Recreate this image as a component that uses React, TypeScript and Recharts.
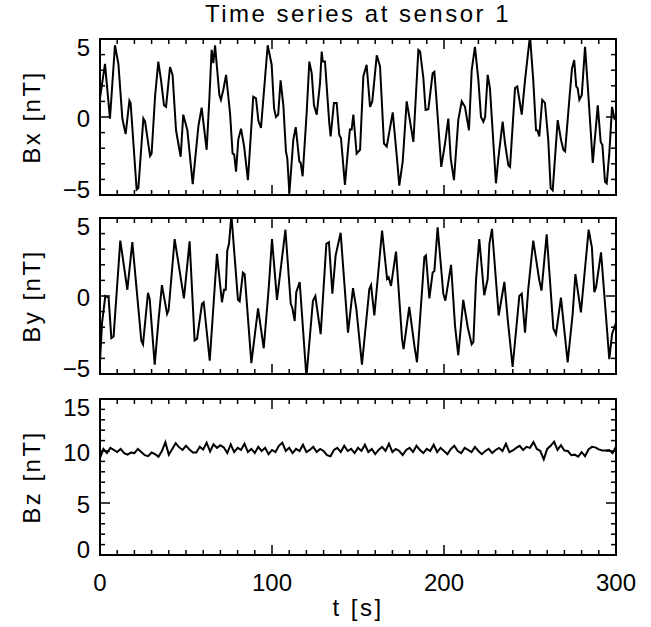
import { LineChart, Line, XAxis, YAxis, ReferenceArea } from 'recharts';

// Bx (time in s, field in nT)
const bxTime = [
  0, 2.9, 5.8, 8.7, 10.7, 13.0, 14.9, 17.1, 17.8, 21.3, 22.3, 25.2, 26.2, 29.1, 30.0, 32.0, 33.9, 35.5, 37.2, 38.4,
  40.7, 42.2, 44.2, 46.9, 48.4, 50.8, 53.9, 57.2, 59.1, 62.0, 63.6, 64.9, 65.9, 66.9, 69.4, 70.3, 71.7, 73.3, 75.6, 77.1,
  78.0, 79.1, 80.4, 82.0, 83.8, 86.0, 89.1, 90.7, 92.1, 93.6, 97.5, 99.8, 101.2, 102.3, 103.6, 105.0, 106.6, 108.1, 108.9, 110.1,
  112.4, 113.8, 115.9, 116.7, 117.8, 120.2, 121.7, 123.1, 124.4, 126.0, 127.9, 128.9, 129.5, 130.8, 133.3, 134.1, 136.0, 137.6, 139.1, 140.1,
  142.4, 144.4, 145.3, 146.3, 147.3, 149.2, 151.2, 153.1, 155.0, 157.0, 158.3, 160.9, 162.8, 165.1, 166.7, 170.2, 172.9, 174.0, 176.0, 178.3,
  180.0, 182.2, 185.1, 186.1, 188.0, 189.3, 190.9, 193.4, 194.4, 195.5, 198.4, 200.6, 202.5, 203.9, 205.8, 208.3, 210.3, 212.2, 214.5, 216.1,
  218.0, 220.0, 221.5, 222.9, 223.9, 225.4, 226.7, 230.2, 231.6, 234.1, 235.5, 237.4, 238.4, 241.3, 242.6, 245.2, 247.1, 248.4, 250.0, 251.9,
  253.5, 254.3, 255.4, 257.1, 258.7, 260.6, 262.0, 263.2, 266.1, 268.0, 269.4, 270.4, 273.0, 274.4, 275.7, 276.9, 277.7, 278.7, 280.1, 282.0,
  284.0, 286.5, 289.4, 291.1, 292.1, 293.6, 294.6, 296.1, 297.7, 299.1, 300,
];
const bxValue = [
  1.2, 3.4, -0.1, 4.6, 3.4, -0.1, -1.1, 1.05, 0.9, -4.65, -4.55, -0.1, -0.3, -2.5, -2.35, 1.3, 3.55, 2.35, 0.75, 0.65,
  3.2, 2.7, -0.85, -2.55, 0.15, -0.85, -4.3, -0.6, 0.6, -2.1, 1.2, 4.3, 3.45, 4.6, 1.4, 1.1, 1.75, 2.7, 0.25, -2.35,
  -2.4, -3.5, -1.45, -0.75, -1.9, -4.05, 1.3, 1.2, -0.25, -0.7, 4.6, 3.35, 0.55, 0.0, 0.15, 2.35, 0.75, -2.2, -2.65, -4.9,
  -1.45, -0.65, -2.85, -2.95, -3.8, 0.35, 3.55, 2.8, 0.75, 0.15, 2.15, 4.2, 3.55, 3.55, -0.4, -1.25, 0.9, 0.9, -1.15, -1.35,
  -4.35, -1.8, -0.8, -0.8, 0.15, -2.35, -2.1, 2.6, 3.35, 0.65, 1.0, 3.95, 3.25, -1.7, -1.9, 0.3, -2.95, -4.4, -2.85, 1.0,
  -0.1, -1.6, 4.3, 4.2, 2.5, 0.45, 0.5, 2.8, 2.9, 1.3, -3.2, -1.7, -0.1, -2.65, -4.05, -0.2, 1.0, 0.65, -0.85, 3.0,
  4.5, 2.35, 0.0, -0.3, 0.0, 2.7, 1.85, -4.25, -2.65, -0.3, -1.7, -3.1, -3.2, 1.85, 1.95, 0.15, 2.35, 3.65, 5.2, 2.35,
  -0.85, -0.85, -1.25, 1.1, 0.9, -1.45, -4.55, -4.7, -0.2, -1.45, -2.1, -2.2, 1.3, 3.1, 3.65, 1.95, 1.85, 1.1, 1.4, 4.5,
  1.3, -2.95, 0.75, -1.6, -1.8, -4.15, -4.25, -2.35, 0.65, -0.1, 0.0,
];

// By
const byTime = [
  0, 1.2, 3.1, 5.0, 6.6, 7.9, 11.8, 15.9, 18.8, 24.0, 25.0, 27.9, 28.9, 31.8, 34.1, 36.0, 39.0, 39.9, 43.4, 48.8,
  52.1, 55.0, 56.4, 59.3, 60.3, 63.8, 68.0, 70.9, 72.1, 73.1, 74.0, 75.0, 76.4, 80.2, 81.2, 83.1, 84.1, 88.0, 91.9, 95.2,
  98.1, 100.0, 102.9, 107.8, 110.9, 111.8, 113.2, 114.1, 116.1, 120.0, 123.8, 125.2, 128.3, 131.6, 133.1, 135.1, 137.0, 138.0, 139.9, 144.2,
  147.1, 149.0, 152.3, 156.6, 157.6, 159.5, 164.0, 166.9, 167.8, 169.2, 172.1, 175.6, 176.5, 179.8, 182.8, 184.3, 188.6, 189.5, 191.5, 193.4,
  194.4, 196.3, 199.6, 200.8, 204.1, 206.4, 208.3, 211.2, 213.8, 216.1, 217.1, 218.6, 220.5, 223.4, 225.4, 226.4, 227.9, 231.8, 235.1, 237.0,
  239.9, 243.8, 245.2, 247.1, 249.0, 251.9, 255.4, 256.7, 259.7, 263.6, 265.1, 268.0, 271.9, 274.8, 276.4, 279.6, 284.1, 286.0, 287.4, 288.4,
  291.3, 296.1, 297.7, 300,
];
const byValue = [
  -4.2, -1.7, 0.0, -0.1, -2.7, -2.6, 3.55, 0.4, 3.45, -2.85, -3.1, 0.2, -0.2, -4.4, -1.45, 0.7, -1.15, -0.9, 3.65, -0.15,
  3.5, -2.85, -2.75, -0.5, -0.4, -4.15, 2.7, -0.4, 0.4, 0.4, 2.9, 3.35, 5.2, -0.25, -0.35, 1.5, 1.4, -4.3, -0.8, -3.35,
  0.5, 3.65, -0.25, 4.25, -0.5, -0.75, -1.6, 0.25, 0.9, -5.2, -0.3, 0.0, -2.45, 3.35, 3.45, 0.15, 2.6, 3.1, 4.05, -2.35,
  0.5, -0.8, -4.4, 0.45, 0.7, -1.25, 4.2, 1.1, 1.2, 0.65, 2.85, -2.75, -3.4, -0.7, -3.2, -4.25, 2.5, 2.6, -0.15, 1.5,
  1.6, 4.4, 0.15, -0.3, 2.0, -1.9, -3.8, -0.25, -2.0, -3.1, -2.95, 1.0, 3.65, 0.05, 1.1, 3.35, 4.3, -1.25, 0.9, -1.45,
  -4.55, 0.0, 0.15, -2.35, 0.45, 3.55, 1.0, 0.35, 3.95, -2.1, -2.45, -0.1, -4.25, -1.15, 1.4, -1.05, 4.25, 3.1, 0.25, 0.55,
  2.8, -4.05, -2.45, -1.7,
];

// Bz, one sample every 2 s from t = 0
const BZ_STEP = 2;
const bzValue = [
  9.3, 10.2, 9.8, 10.3, 10.1, 9.9, 10.2, 9.8, 9.65, 9.85, 9.8, 10.2, 9.9, 9.6, 9.5, 9.85, 9.7, 9.45, 10.0, 10.85,
  9.65, 10.2, 10.75, 10.35, 10.1, 10.5, 10.15, 9.85, 9.85, 10.4, 10.15, 10.8, 9.95, 10.65, 10.3, 10.55, 10.35, 9.8, 10.65, 9.9,
  10.3, 10.1, 10.7, 9.9, 10.2, 9.8, 10.4, 10.0, 10.3, 9.7, 10.1, 9.9, 10.5, 10.8, 10.0, 10.3, 9.8, 10.2, 10.0, 10.6,
  9.9, 10.1, 10.4, 9.9, 10.2, 10.0, 9.6, 9.5, 10.1, 10.3, 9.9, 10.5, 10.0, 10.2, 9.8, 10.3, 10.0, 10.6, 9.9, 10.2,
  9.7, 10.1, 10.4, 10.0, 10.7, 9.9, 10.2, 10.0, 9.6, 10.1, 10.3, 9.9, 10.5, 10.1, 9.8, 10.2, 10.0, 10.6, 9.9, 10.3,
  10.0, 9.7, 10.2, 10.5, 10.0, 9.8, 10.3, 10.1, 9.9, 10.4, 10.0, 9.7, 10.0, 10.2, 9.8, 10.1, 10.3, 10.0, 10.7, 9.9,
  10.05, 10.3, 10.5, 10.1, 10.4, 10.3, 10.85, 10.2, 10.0, 9.2, 10.2, 10.5, 10.9, 10.1, 10.55, 10.05, 10.0, 9.6, 9.65, 9.45,
  9.9, 9.5, 10.15, 10.4, 10.35, 10.15, 10.05, 10.05, 10.1, 9.8, 10.4,
];

const xTicks = [
  0, 10, 20, 30, 40, 50, 60, 70, 80, 90, 100, 110, 120, 130, 140, 150, 160, 170, 180, 190,
  200, 210, 220, 230, 240, 250, 260, 270, 280, 290, 300,
];
const xMajor = [0, 100, 200, 300];
const bTicks = [-5, -4, -3, -2, -1, 0, 1, 2, 3, 4, 5];
const bMajor = [-5, 0, 5];
const bzTicks = [0, 1, 2, 3, 4, 5, 6, 7, 8, 9, 10, 11, 12, 13, 14, 15];
const bzMajor = [0, 5, 10, 15];

const FONT = '"Liberation Sans", Arial, sans-serif';
const WIDTH = 651;
const HEIGHT = 627;
const PLOT_LEFT = 100;
const PLOT_RIGHT = 616;
const PLOT_H = 156;
const MARGIN_TOP = 10;

const fmt = (v: number) => (v < 0 ? `\u2212${-v}` : `${v}`);

type PanelProps = {
  top: number;
  data: { t: number; v: number }[];
  domain: [number, number];
  ticks: number[];
  major: number[];
  showX: boolean;
};

function Panel({ top, data, domain, ticks, major, showX }: PanelProps) {
  const xAxisH = showX ? 72 : 10;
  const height = MARGIN_TOP + PLOT_H + xAxisH;
  const plotBottom = MARGIN_TOP + PLOT_H;
  const [lo, hi] = domain;

  const yTick = (props: any) => {
    const { y, payload } = props;
    const v = payload.value;
    const isMajor = major.includes(v);
    const len = isMajor ? 10 : 5;
    // IDL pulls the end labels inside the frame a little
    const shift = v === hi ? 8 : v === lo ? -6 : 1;
    return (
      <g>
        <line x1={PLOT_LEFT} x2={PLOT_LEFT + len} y1={y} y2={y} stroke="#000" strokeWidth={1.5} />
        <line x1={PLOT_RIGHT - len} x2={PLOT_RIGHT} y1={y} y2={y} stroke="#000" strokeWidth={1.5} />
        {isMajor && (
          <text x={90} y={y + shift + 8.5} textAnchor="end" fontFamily={FONT} fontSize={24} fill="#000">
            {fmt(v)}
          </text>
        )}
      </g>
    );
  };

  const xTick = (props: any) => {
    const { x, payload } = props;
    const v = payload.value;
    const isMajor = xMajor.includes(v);
    const len = isMajor ? 10 : 5;
    return (
      <g>
        <line x1={x} x2={x} y1={plotBottom} y2={plotBottom - len} stroke="#000" strokeWidth={1.5} />
        <line x1={x} x2={x} y1={MARGIN_TOP} y2={MARGIN_TOP + len} stroke="#000" strokeWidth={1.5} />
        {showX && isMajor && (
          <text x={x} y={plotBottom + 36} textAnchor="middle" fontFamily={FONT} fontSize={24} fill="#000">
            {v}
          </text>
        )}
      </g>
    );
  };

  return (
    <div style={{ position: 'absolute', left: 0, top: top - MARGIN_TOP }}>
      <LineChart
        width={WIDTH}
        height={height}
        data={data}
        margin={{ top: MARGIN_TOP, right: WIDTH - PLOT_RIGHT, left: 0, bottom: 0 }}
      >
        <XAxis
          type="number"
          dataKey="t"
          domain={[0, 300]}
          ticks={xTicks}
          interval={0}
          tick={xTick}
          tickLine={false}
          axisLine={false}
          height={xAxisH}
          allowDataOverflow
        />
        <YAxis
          type="number"
          domain={domain}
          ticks={ticks}
          interval={0}
          tick={yTick}
          tickLine={false}
          axisLine={false}
          width={PLOT_LEFT}
          allowDataOverflow
        />
        <ReferenceArea x1={0} x2={300} y1={lo} y2={hi} fill="none" stroke="#000" strokeWidth={2} ifOverflow="visible" />
        <Line type="linear" dataKey="v" stroke="#000" strokeWidth={2} dot={false} isAnimationActive={false} />
      </LineChart>
    </div>
  );
}

export default function App() {
  const bx = bxTime.map((t, i) => ({ t, v: bxValue[i] }));
  const by = byTime.map((t, i) => ({ t, v: byValue[i] }));
  const bz = bzValue.map((v, i) => ({ t: i * BZ_STEP, v }));

  const yLabels = [
    { text: 'Bx [nT]', cy: 117 },
    { text: 'By [nT]', cy: 296 },
    { text: 'Bz [nT]', cy: 477 },
  ];

  return (
    <div style={{ position: 'absolute', left: 0, top: 0, width: WIDTH, height: HEIGHT, background: '#fff' }}>
      <Panel top={39} data={bx} domain={[-5, 5]} ticks={bTicks} major={bMajor} showX={false} />
      <Panel top={218} data={by} domain={[-5, 5]} ticks={bTicks} major={bMajor} showX={false} />
      <Panel top={399} data={bz} domain={[0, 15]} ticks={bzTicks} major={bzMajor} showX />
      <svg
        width={WIDTH}
        height={HEIGHT}
        style={{ position: 'absolute', left: 0, top: 0, pointerEvents: 'none' }}
        fontFamily={FONT}
        fontSize={24}
      >
        <text x={358} y={22} textAnchor="middle" letterSpacing={2.5}>
          Time series at sensor 1
        </text>
        <text x={358} y={616} textAnchor="middle" letterSpacing={2.5}>
          t [s]
        </text>
        {yLabels.map((l) => (
          <text
            key={l.text}
            x={40}
            y={l.cy}
            textAnchor="middle"
            letterSpacing={2.5}
            transform={`rotate(-90, 40, ${l.cy})`}
          >
            {l.text}
          </text>
        ))}
      </svg>
    </div>
  );
}
